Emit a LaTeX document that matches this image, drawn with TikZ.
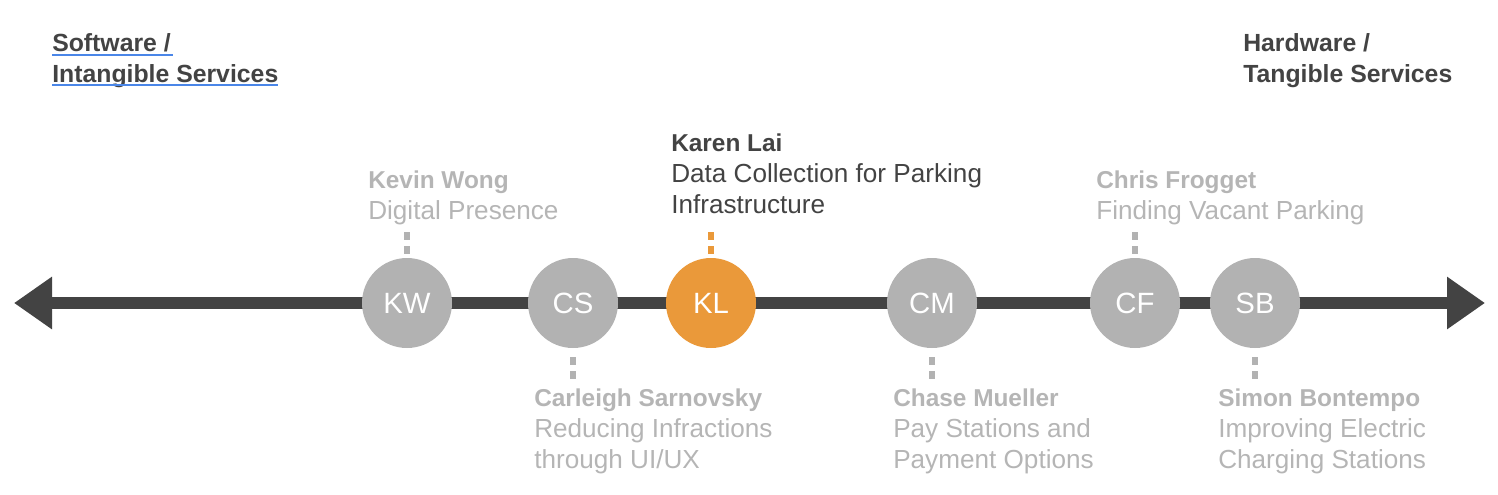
\documentclass[tikz,border=0pt]{standalone}
\usepackage{fontspec}
\setmainfont{Liberation Sans}
\usetikzlibrary{arrows.meta}
\definecolor{axisgray}{RGB}{67,67,67}
\definecolor{dotgray}{RGB}{178,178,178}
\definecolor{labelgray}{RGB}{181,181,181}
\definecolor{leadorange}{RGB}{234,153,58}
\definecolor{linkblue}{RGB}{74,134,232}
\newcommand\membername[1]{{\bfseries\fontsize{18.3}{23.25}\selectfont #1}}
\begin{document}
\begin{tikzpicture}[x=0.75pt,y=0.75pt,yscale=-1,xscale=1,
    member/.style={circle,fill=dotgray,minimum size=67.5pt,inner sep=0pt,text=white,font=\fontsize{22}{22}\selectfont},
    leadmember/.style={member,fill=leadorange},
    blurb/.style={anchor=base west,inner sep=0pt,align=left,text=labelgray,font=\fontsize{19.6}{23.25}\selectfont},
    leadblurb/.style={blurb,text=axisgray},
    heading/.style={anchor=base west,inner sep=0pt,align=left,text=axisgray,font=\bfseries\fontsize{18.6}{23.25}\selectfont},
    tick/.style={draw=dotgray,line width=4.5pt,dash pattern=on 6pt off 4.5pt},
    leadtick/.style={tick,draw=leadorange},
    headline/.style={draw=linkblue,line width=1.1pt}
  ]
        \useasboundingbox (0,0) rectangle (1498,494);
        % Text Node
        \node [heading] (soft) at (52,82) {Software /\\Intangible Services};
        \draw [headline] (52,55) -- (173,55) ;
        \draw [headline] (52,85) -- (278,85) ;
        % Text Node
        \node [heading] (hard) at (1243,82) {Hardware /\\Tangible Services};
        % Connection
        \coordinate (westend) at (14,303);
        \coordinate (eastend) at (1485,303);
        \draw [axisgray,line width=9pt,{Triangle[length=28.5pt,width=37.5pt]}-{Triangle[length=28.5pt,width=37.5pt]}] (westend) -- (eastend) ;
        % Circle Node
        \node [member] (kw) at (407,303) {KW};
        \node [member] (cs) at (573,303) {CS};
        \node [leadmember] (kl) at (711,303) {KL};
        \node [member] (cm) at (932,303) {CM};
        \node [member] (cf) at (1135,303) {CF};
        \node [member] (sb) at (1255,303) {SB};
        % Text Node
        \node [blurb] (kwtext) at (368,219) {\membername{Kevin Wong}\\Digital Presence};
        \node [leadblurb] (kltext) at (671,213) {\membername{Karen Lai}\\Data Collection for Parking\\Infrastructure};
        \node [blurb] (cftext) at (1096,219) {\membername{Chris Frogget}\\Finding Vacant Parking};
        \node [blurb] (cstext) at (534,468) {\membername{Carleigh Sarnovsky}\\Reducing Infractions\\through UI/UX};
        \node [blurb] (cmtext) at (893,468) {\membername{Chase Mueller}\\Pay Stations and\\Payment Options};
        \node [blurb] (sbtext) at (1218,468) {\membername{Simon Bontempo}\\Improving Electric\\Charging Stations};
        % Connection
        \coordinate (kwtick) at (407,231);
        \coordinate (kltick) at (711,231);
        \coordinate (cftick) at (1135,231);
        \coordinate (cstick) at (573,380);
        \coordinate (cmtick) at (932,380);
        \coordinate (sbtick) at (1255,380);
        \draw [tick] (kw.north) ++(0,-4) -- (kwtick) ;
        \draw [leadtick] (kl.north) ++(0,-4) -- (kltick) ;
        \draw [tick] (cf.north) ++(0,-4) -- (cftick) ;
        \draw [tick] (cs.south) ++(0,9) -- (cstick) ;
        \draw [tick] (cm.south) ++(0,9) -- (cmtick) ;
        \draw [tick] (sb.south) ++(0,9) -- (sbtick) ;
    \end{tikzpicture}
\end{document}
